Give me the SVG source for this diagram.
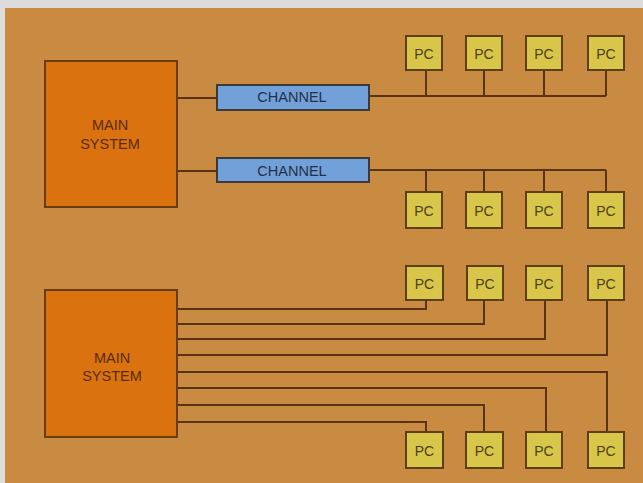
<svg xmlns="http://www.w3.org/2000/svg" width="643" height="483" viewBox="0 0 643 483">
<style>
.main{fill:#d9720f;stroke:#6b3c14;stroke-width:2}
.chan{fill:#72a0d8;stroke:#3a3a3a;stroke-width:2}
.pc{fill:#d8c64a;stroke:#5e3e12;stroke-width:2}
.wire{fill:none;stroke:#5a3412;stroke-width:2}
.tm{font-family:"Liberation Sans",Arial,sans-serif;font-size:14.5px;fill:#5a2c0c;text-anchor:middle}
.tc{font-family:"Liberation Sans",Arial,sans-serif;font-size:14.5px;fill:#243048;text-anchor:middle}
.tp{font-family:"Liberation Sans",Arial,sans-serif;font-size:14px;fill:#4e3e16;text-anchor:middle}
</style>
<rect x="0" y="0" width="643" height="483" fill="#dcdcdc"/>
<rect x="5" y="8" width="638" height="475" fill="#c98a42"/>
<g id="connectors">
<path class="wire" d="M177 98H217M177 171H217"/>
<path class="wire" d="M369 96H606M426 70V96M484 70V96M544 70V96M606 70V96"/>
<path class="wire" d="M369 170H606M426 170V192M484 170V192M544 170V192M606 170V192"/>
<path class="wire" d="M177 309H426V300M177 324H484V300M177 339H545V300M177 355H607V300"/>
<path class="wire" d="M177 372H607V432M177 388H546V432M177 405H484V432M177 422H426V432"/>
</g>
<g id="main1"><rect class="main" x="45" y="61" width="132" height="146"/><text class="tm" x="110" y="130">MAIN</text><text class="tm" x="110" y="149">SYSTEM</text></g>
<g id="main2"><rect class="main" x="45" y="290" width="132" height="147"/><text class="tm" x="112" y="363">MAIN</text><text class="tm" x="112" y="381">SYSTEM</text></g>
<g id="channel1"><rect class="chan" x="217" y="85" width="152" height="25"/><text class="tc" x="292" y="102">CHANNEL</text></g>
<g id="channel2"><rect class="chan" x="217" y="158" width="152" height="24"/><text class="tc" x="292" y="176">CHANNEL</text></g>
<g id="pc1"><rect class="pc" x="406" y="36" width="36" height="34"/><text class="tp" x="424" y="59">PC</text></g>
<g id="pc2"><rect class="pc" x="466" y="36" width="36" height="34"/><text class="tp" x="484" y="59">PC</text></g>
<g id="pc3"><rect class="pc" x="526" y="36" width="36" height="34"/><text class="tp" x="544" y="59">PC</text></g>
<g id="pc4"><rect class="pc" x="588" y="36" width="36" height="34"/><text class="tp" x="606" y="59">PC</text></g>
<g id="pc5"><rect class="pc" x="406" y="192" width="36" height="36"/><text class="tp" x="424" y="216">PC</text></g>
<g id="pc6"><rect class="pc" x="466" y="192" width="36" height="36"/><text class="tp" x="484" y="216">PC</text></g>
<g id="pc7"><rect class="pc" x="526" y="192" width="36" height="36"/><text class="tp" x="544" y="216">PC</text></g>
<g id="pc8"><rect class="pc" x="588" y="192" width="36" height="36"/><text class="tp" x="606" y="216">PC</text></g>
<g id="pc9"><rect class="pc" x="406" y="266" width="37" height="34"/><text class="tp" x="424.5" y="289">PC</text></g>
<g id="pc10"><rect class="pc" x="467" y="266" width="36" height="34"/><text class="tp" x="485" y="289">PC</text></g>
<g id="pc11"><rect class="pc" x="526" y="266" width="36" height="34"/><text class="tp" x="544" y="289">PC</text></g>
<g id="pc12"><rect class="pc" x="588" y="266" width="36" height="34"/><text class="tp" x="606" y="289">PC</text></g>
<g id="pc13"><rect class="pc" x="406" y="432" width="37" height="36"/><text class="tp" x="424.5" y="456">PC</text></g>
<g id="pc14"><rect class="pc" x="466" y="432" width="37" height="36"/><text class="tp" x="484.5" y="456">PC</text></g>
<g id="pc15"><rect class="pc" x="526" y="432" width="36" height="36"/><text class="tp" x="544" y="456">PC</text></g>
<g id="pc16"><rect class="pc" x="588" y="432" width="36" height="36"/><text class="tp" x="606" y="456">PC</text></g>
</svg>
